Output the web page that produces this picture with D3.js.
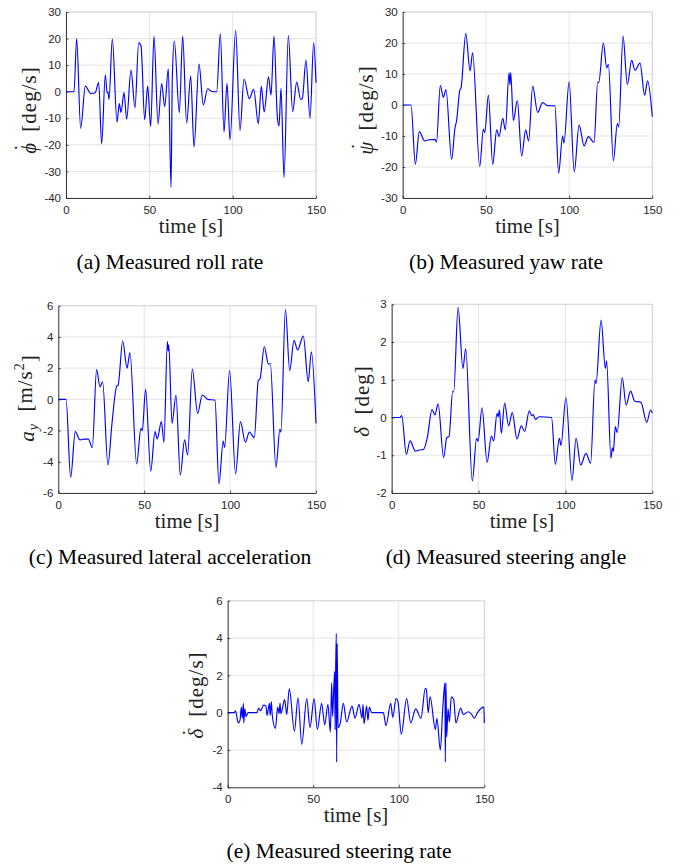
<!DOCTYPE html>
<html>
<head>
<meta charset="utf-8">
<script src="https://cdn.jsdelivr.net/npm/d3@7/dist/d3.min.js"></script>
<style>
  html, body { margin: 0; padding: 0; background: #fff; }
  svg { display: block; }
</style>
</head>
<body>
<svg id="fig" width="685" height="867"></svg>
<script>
// ---------------- DATA (time [s], value) ----------------
const xTicks = [0, 50, 100, 150];

const rollRate = [
  [0,0],[4.8,0],[6.4,20],[8.8,-13.8],[11.6,2.1],[14.8,-0.7],[17.5,-0.4],[19.6,3.4],[21.4,-19.6],
  [23.6,6.4],[24.7,-0.5],[25.2,-0.1],[25.8,-2.9],[27.8,19.9],[30.6,-11.5],[32,-4.5],[33,-7.8],
  [34.8,-0.3],[36.4,-10.3],[39,8.1],[41.4,-6],[43.6,18.4],[45,17.3],[47.2,-10.5],[49,2.1],
  [50.8,-13.1],[52.8,20.9],[55.2,-12.1],[57.4,3.1],[59.2,-5.6],[61.4,8.6],[63,-36],[63.8,5.6],
  [65,19.1],[68,-7.9],[70,20.9],[72.4,-11.8],[74.8,5.9],[76.8,-20.8],[79.8,10.4],[82.4,-5],
  [85,1.1],[87.5,0.1],[90.4,0],[92.6,21.9],[94.8,-15.2],[96.6,3.2],[98.4,-18.1],[101.8,23.1],
  [104.4,-14.6],[106.8,4.8],[110,-2.6],[112.6,0.9],[115.4,-12],[117.2,2],[118.9,-7.6],
  [121.5,5.6],[123,-1.3],[124.8,20.9],[126.8,-9.6],[127.8,-12.9],[129,1.3],[130.8,-32.3],
  [133.4,21.1],[136,-7.5],[138.4,3.6],[140.8,-2.9],[141.8,-2.5],[144,11.9],[146.4,-10],
  [148.6,18.5],[150,3.4]
];
const rollTicks = [-40, -30, -20, -10, 0, 10, 20, 30];

const yawRate = [
  [0,0],[5,0],[7.6,-19.1],[10,-8.6],[13.2,-11.6],[16,-11.2],[19.5,-11.1],[20.3,-12],[22.6,6.3],
  [24.4,2.5],[26,5],[29.4,-17.5],[31.4,-7.5],[32.4,-5],[34.4,5],[35,5.4],[37.9,23],[40.5,11],
  [42,16.8],[46.3,-19.8],[48.5,-7.8],[49.3,-8.9],[51.5,3.2],[54.1,-19.2],[56.5,-8],[57.9,-10.2],
  [60.1,-4.3],[61.7,-8],[63.9,10.4],[64.4,6.5],[64.9,10.5],[66.5,-5],[68.9,1.4],[71.5,-16.5],
  [73.9,-8],[75.7,-11.6],[78.1,6.1],[81.1,-2.4],[84.1,0.75],[87,-0.2],[91.5,-0.3],[93.7,-22],
  [96.1,-10],[96.9,-12.3],[100,7.5],[103.1,-21.6],[106,-6.4],[109,-13.2],[111.6,-10.2],
  [115,-12.1],[117.2,7.5],[117.8,7.2],[120.6,20],[122.6,12],[123.6,13.1],[126.6,-18],[129,-6],
  [129.8,-7.1],[132.4,22.2],[135,6.6],[137.6,14.4],[139.6,11.2],[142.6,13.5],[145.4,3.2],
  [147.2,7.8],[150,-3.8]
];
const yawTicks = [-30, -20, -10, 0, 10, 20, 30];

const latAcc = [
  [0,0],[4.5,0],[7.2,-5],[9.9,-2.07],[12.6,-2.6],[15,-2.55],[17.5,-2.55],[19.8,-3.1],[22.3,1.9],
  [24.3,0.8],[25.8,1.13],[28.9,-4.2],[31.2,-1.6],[34,0.85],[34.8,0.9],[37.5,3.74],[40,2],
  [41.7,3],[45.6,-4.14],[48.1,-1.86],[48.9,-2],[50.8,0.64],[53.8,-4.6],[56.3,-2.07],[57.6,-2.54],
  [60,-1.43],[61.5,-2.75],[63.5,3.7],[63.9,3.1],[64.3,3.5],[66.2,-1.54],[68.5,0.28],[71,-4.85],
  [73.5,-2.6],[75.3,-3.57],[78,1.94],[81.1,-0.9],[83.8,0.28],[87,0],[91.2,-0.05],[93.5,-5.42],
  [96,-2.67],[96.8,-3.08],[99.7,1.84],[103.2,-4.78],[106,-1.43],[108.9,-2.75],[111.2,-2.1],
  [114.1,-2.45],[116.4,1.2],[117.4,1.3],[119.9,3.37],[122.3,2.26],[123.4,2.3],[126.7,-4.36],
  [129,-1.9],[129.6,-2.1],[132.2,5.77],[134.7,1.84],[137.2,3.78],[139.3,3.16],[142.6,4.06],
  [145.5,1.13],[147.3,3.05],[150,-1.54]
];
const latTicks = [-6, -4, -2, 0, 2, 4, 6];

const steerAngle = [
  [0,0],[4.8,0],[5.8,0.05],[8.4,-0.97],[10.6,-0.62],[13.6,-0.89],[16,-0.86],[18.2,-0.85],
  [20.5,-0.53],[23.2,0.21],[24.9,0.07],[26.7,0.36],[29.9,-1.06],[31.7,-0.53],[33,-0.5],
  [35.1,0.69],[35.7,0.68],[38.2,2.92],[41,1.3],[42.6,1.82],[46.4,-1.68],[48.9,-0.55],
  [49.7,-0.63],[52,0.26],[54.9,-1.19],[57.4,-0.49],[58.7,-0.62],[60.6,0.11],[61.3,0.02],
  [62,0.2],[63.1,-0.42],[65,0.38],[67.3,-0.22],[69.4,0.13],[72.1,-0.57],[74.6,-0.22],
  [76.5,-0.37],[79.2,0.18],[80.5,0.05],[81.5,0.08],[82.7,-0.05],[84.8,0.02],[92,0],
  [94.2,-1.24],[96.5,-0.55],[97.4,-0.74],[100.3,0.53],[103.8,-1.67],[106.1,-0.55],
  [108.8,-1.26],[111.8,-0.95],[114.5,-1.21],[117,0.99],[117.6,0.9],[120.5,2.58],[123,1.3],
  [123.7,1.5],[126.2,-1.08],[127,-0.8],[127.6,-0.9],[128.7,-0.24],[129.8,-0.4],[132.7,1.06],
  [134.9,0.33],[137.5,0.7],[139.8,0.44],[143.5,0.4],[146.8,-0.13],[149,0.2],[150,0.12]
];
const angleTicks = [-2, -1, 0, 1, 2, 3];

const steerRate = [
  [0,0],[3.9,0],[4.5,0.1],[6.2,-0.55],[7.2,-0.4],[8,0.3],[8.5,-0.3],[9.2,0.5],[9.4,-0.55],
  [10,0.2],[10.7,-0.2],[12,0],[17,0],[18.1,0.25],[19.2,0.1],[21,0.4],[22.4,0.35],[23,-0.15],
  [24.4,0.5],[24.8,-0.15],[25.5,0.6],[26,-0.1],[27.9,-0.85],[29.2,0.3],[30,-0.05],[30.6,0.5],
  [31.1,-0.05],[33.3,0.7],[34.5,-0.1],[36,1.28],[39,-1.0],[41.1,0.8],[43.3,-1.7],[46.2,0.75],
  [48.1,-0.8],[50.5,0.75],[52.4,-0.9],[54.9,0.5],[56.7,-0.65],[58.6,0.45],[60,-1.05],[60.8,1.6],
  [61.3,-0.2],[62.5,2.2],[62.8,-0.9],[63.1,2.2],[63.5,4.25],[63.7,-2.65],[64,3.7],[64.5,-0.8],
  [65.7,-0.6],[67.6,0.5],[69.5,-0.5],[72.7,0.35],[74.4,-0.3],[76.8,0.45],[78.5,-0.3],[79.1,0.45],
  [79.7,-0.6],[81.2,0.35],[82,-0.4],[82.8,0.3],[84.2,0],[91,0],[92.5,-0.7],[95.3,0.5],
  [96.5,-0.25],[98.4,0.75],[99.5,0.6],[101.5,-1.15],[104.6,0.75],[107,-0.55],[109.9,0.2],
  [113,-0.3],[115.5,1.3],[116.1,1.25],[117.2,0],[118.3,0.85],[121.4,-0.9],[122.3,-0.3],
  [124.3,-2.0],[125.7,0.2],[127,1.6],[127.2,-2.65],[127.6,1.6],[128,-1.3],[128.8,0.2],
  [129.6,-0.5],[130.7,0.85],[132.1,0.7],[133.4,-0.55],[136.2,0.25],[137.7,-0.1],[140.7,0.05],
  [142.7,-0.1],[144.2,-0.3],[146,0],[148.4,0.25],[149.8,0.3],[150,-0.55]
];
const rateTicks = [-4, -2, 0, 2, 4, 6];

// ---------------- LAYOUT ----------------
// label parts: [text, italic, dy, fontSize, dx]
const panels = [
  { data: rollRate, ticks: rollTicks, x0: 66, x1: 316, y0: 12, y1: 198,
    ylab: { x: 36, cy: 110, parts: [["ϕ", true], ["˙", false, "-0.32em", null, "-0.45em"], [" [deg/s]", false, "0.32em", null, "0.25em"]] },
    cap: { x: 170, y: 269, text: "(a) Measured roll rate" } },
  { data: yawRate, ticks: yawTicks, x0: 402.7, x1: 652.3, y0: 12, y1: 198,
    ylab: { x: 373, cy: 110, parts: [["ψ", true], ["˙", false, "-0.32em", null, "-0.45em"], [" [deg/s]", false, "0.32em", null, "0.25em"]] },
    cap: { x: 506, y: 269, text: "(b) Measured yaw rate" } },
  { data: latAcc, ticks: latTicks, x0: 58.3, x1: 316, y0: 305.7, y1: 493,
    ylab: { x: 34, cy: 398, parts: [["a", true], ["y", true, "0.3em", "14px"], [" [m/s", false, "-0.3em", null, "0.25em"], ["2", false, "-0.55em", "14px"], ["]", false, "0.55em"]] },
    cap: { x: 170, y: 564, text: "(c) Measured lateral acceleration" } },
  { data: steerAngle, ticks: angleTicks, x0: 391.7, x1: 652.3, y0: 304.3, y1: 493,
    ylab: { x: 369, cy: 401, parts: [["δ", true], [" [deg]", false, null, null, "0.25em"]] },
    cap: { x: 506, y: 564, text: "(d) Measured steering angle" } },
  { data: steerRate, ticks: rateTicks, x0: 227.7, x1: 484.3, y0: 600.7, y1: 787.3,
    ylab: { x: 203, cy: 695, parts: [["δ", true], ["˙", false, "-0.3em", null, "-0.4em"], [" [deg/s]", false, "0.3em", null, "0.25em"]] },
    cap: { x: 339, y: 858, text: "(e) Measured steering rate" } }
];

const svg = d3.select("#fig");
const axisColor = "#262626";
const gridColor = "#e3e3e3";
const tickFont = "'Liberation Sans', Arial, Helvetica, sans-serif";
const serif = "'Liberation Serif', 'Times New Roman', 'DejaVu Serif', serif";
const fmt = d => String(d);

panels.forEach(p => {
  const x = d3.scaleLinear().domain([0, 150]).range([p.x0, p.x1]);
  const y = d3.scaleLinear().domain(d3.extent(p.ticks)).range([p.y1, p.y0]);
  const g = svg.append("g");

  // grid
  g.selectAll(".gx").data(xTicks).join("line")
    .attr("x1", d => x(d)).attr("x2", d => x(d))
    .attr("y1", p.y0).attr("y2", p.y1)
    .attr("stroke", gridColor).attr("stroke-width", 1);
  g.selectAll(".gy").data(p.ticks).join("line")
    .attr("x1", p.x0).attr("x2", p.x1)
    .attr("y1", d => y(d)).attr("y2", d => y(d))
    .attr("stroke", gridColor).attr("stroke-width", 1);

  // top/right box
  g.append("line").attr("x1", p.x0).attr("x2", p.x1).attr("y1", p.y0).attr("y2", p.y0)
    .attr("stroke", "#d6d6d6").attr("stroke-width", 1);
  g.append("line").attr("x1", p.x1).attr("x2", p.x1).attr("y1", p.y0).attr("y2", p.y1)
    .attr("stroke", "#d6d6d6").attr("stroke-width", 1);

  // curve
  const line = d3.line().x(d => x(d[0])).y(d => y(d[1])).curve(d3.curveMonotoneX);
  g.append("path").datum(p.data)
    .attr("d", line)
    .attr("fill", "none").attr("stroke", "#0000ff")
    .attr("stroke-width", 1.15).attr("stroke-linejoin", "round");

  // axes (D3 axes, ticks pointing inward)
  const xAxis = d3.axisBottom(x).tickValues(xTicks).tickFormat(fmt).tickSizeInner(-2.5).tickSizeOuter(0).tickPadding(6);
  const yAxis = d3.axisLeft(y).tickValues(p.ticks).tickFormat(fmt).tickSizeInner(-2.5).tickSizeOuter(0).tickPadding(5);
  const gx = g.append("g").attr("transform", `translate(0,${p.y1})`).call(xAxis);
  const gy = g.append("g").attr("transform", `translate(${p.x0},0)`).call(yAxis);
  [gx, gy].forEach(a => {
    a.select(".domain").attr("stroke", axisColor).attr("stroke-width", 0.9);
    a.selectAll(".tick line").attr("stroke", axisColor).attr("stroke-width", 0.8);
    a.selectAll(".tick text").attr("fill", axisColor)
      .style("font-family", tickFont).style("font-size", "11.5px");
  });
  gx.selectAll(".tick text").attr("dy", "0.85em");

  // x label
  g.append("text")
    .attr("x", (p.x0 + p.x1) / 2).attr("y", p.y1 + 35)
    .attr("text-anchor", "middle")
    .style("font-family", serif).style("font-size", "21px").attr("fill", "#222")
    .text("time [s]");

  // y label
  const yl = g.append("text")
    .attr("transform", `translate(${p.ylab.x},${p.ylab.cy}) rotate(-90)`)
    .attr("text-anchor", "middle")
    .style("font-family", serif).style("font-size", "21px").attr("fill", "#222")
    .style("letter-spacing", "1px");
  p.ylab.parts.forEach(([t, it, dy, fs, dx]) => {
    const ts = yl.append("tspan").text(t);
    if (it) ts.style("font-style", "italic");
    if (dy) ts.attr("dy", dy);
    if (dx) ts.attr("dx", dx);
    if (fs) ts.style("font-size", fs);
  });

  // caption
  svg.append("text")
    .attr("x", p.cap.x).attr("y", p.cap.y)
    .attr("text-anchor", "middle")
    .style("font-family", serif).style("font-size", "21.5px").attr("fill", "#000")
    .text(p.cap.text);
});
</script>
</body>
</html>
